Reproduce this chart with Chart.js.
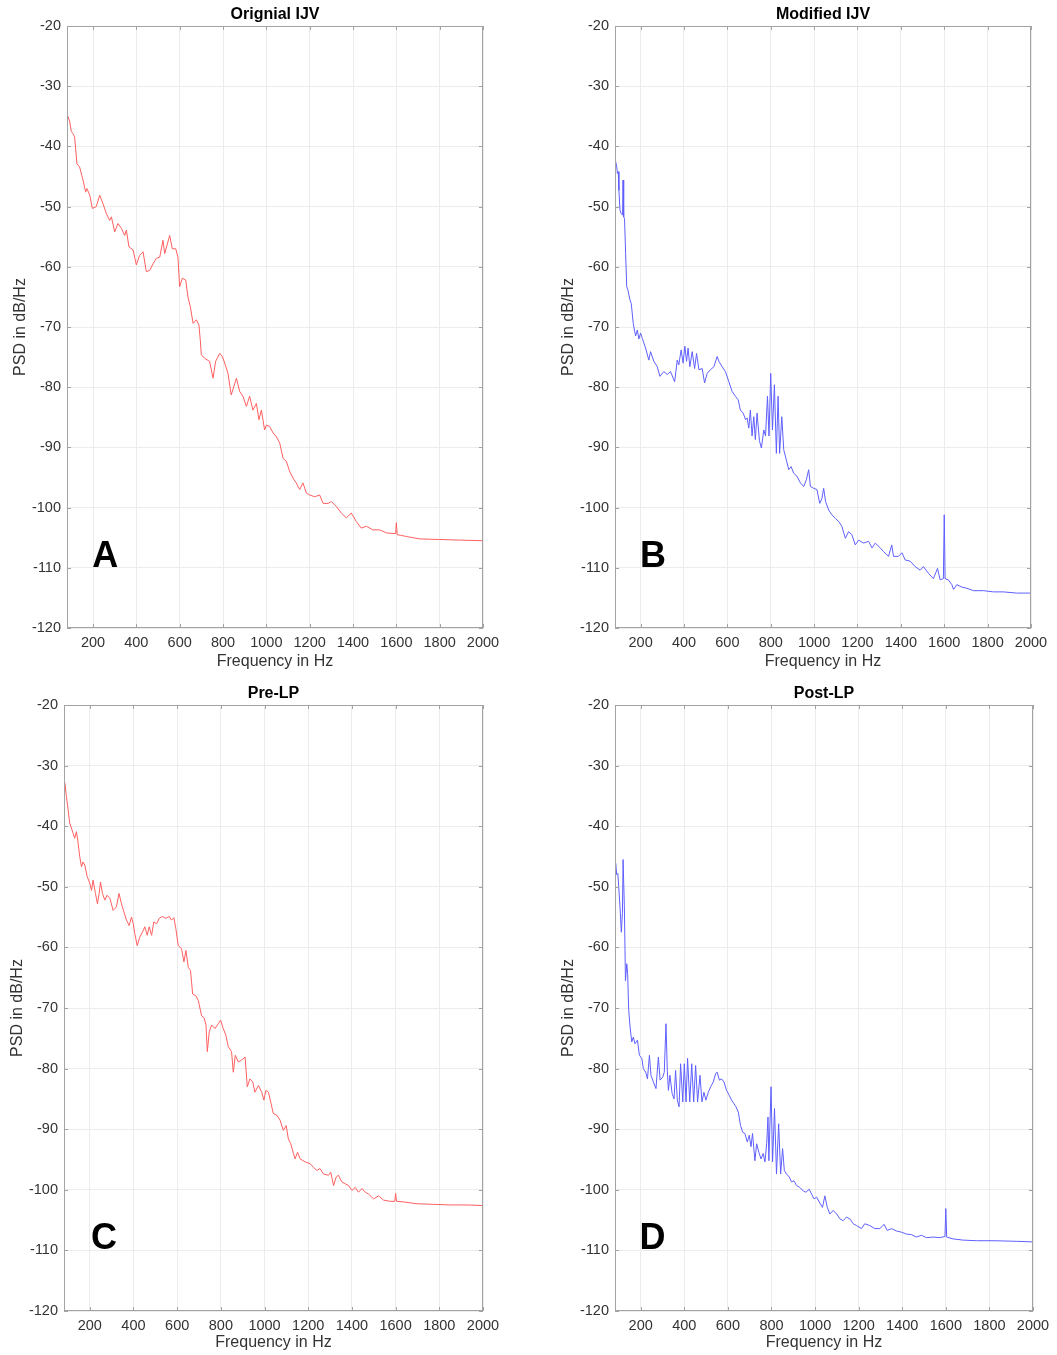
<!DOCTYPE html>
<html>
<head>
<meta charset="utf-8">
<script src="https://cdn.jsdelivr.net/npm/chart.js@4.4.0/dist/chart.umd.min.js"></script>
<style>
  body { margin: 0; background: #fff; }
  .panel { position: absolute; }
</style>
</head>
<body>
<div class="panel" style="left:0px;top:0px"><canvas id="cA" width="509" height="675"></canvas></div>
<div class="panel" style="left:548px;top:0px"><canvas id="cB" width="509" height="675"></canvas></div>
<div class="panel" style="left:0px;top:680px"><canvas id="cC" width="509" height="675"></canvas></div>
<div class="panel" style="left:548px;top:680px"><canvas id="cD" width="509" height="675"></canvas></div>
<script>
// tick labels shared by all four panels
const xTicks = [200, 400, 600, 800, 1000, 1200, 1400, 1600, 1800, 2000];
const yTicks = [-20, -30, -40, -50, -60, -70, -80, -90, -100, -110, -120];

// A: Orignial IJV
const freqA = [80, 84, 92, 100, 108, 115, 126, 138, 154, 166,
  172, 185, 197, 215, 231, 246, 262, 277, 285, 300,
  315, 331, 346, 354, 366, 385, 400, 415, 431, 446,
  462, 477, 492, 508, 523, 531, 554, 566, 582, 592,
  600, 612, 628, 638, 649, 662, 677, 689, 695, 700,
  715, 738, 754, 766, 785, 797, 808, 823, 838, 862,
  877, 892, 908, 923, 938, 954, 966, 977, 992, 1000,
  1015, 1031, 1046, 1062, 1077, 1092, 1108, 1123, 1138, 1154,
  1169, 1185, 1200, 1223, 1246, 1262, 1285, 1300, 1323, 1346,
  1369, 1392, 1415, 1438, 1462, 1492, 1523, 1554, 1585, 1597,
  1600, 1604, 1620, 1646, 1708, 1800, 1892, 2000];
const psdA = [-35.5, -35.0, -35.8, -37.5, -37.9, -38.4, -42.9, -43.4, -45.6, -47.6,
  -47.0, -48.1, -50.3, -50.0, -48.1, -49.5, -51.2, -52.3, -51.7, -54.2,
  -52.8, -53.6, -54.8, -53.9, -56.7, -57.2, -59.7, -58.1, -57.5, -60.8,
  -60.6, -59.5, -58.6, -58.4, -55.6, -57.8, -54.8, -57.0, -57.0, -58.4,
  -63.3, -61.9, -62.2, -65.0, -66.6, -69.4, -68.8, -69.7, -72.1, -74.6,
  -75.2, -75.7, -78.5, -75.7, -74.4, -74.9, -76.0, -77.7, -81.3, -78.5,
  -80.7, -81.5, -83.2, -81.5, -83.8, -82.7, -85.4, -83.8, -87.1, -86.3,
  -86.5, -87.6, -88.2, -89.3, -91.8, -92.3, -94.0, -95.1, -95.9, -97.0,
  -95.9, -97.6, -97.9, -98.2, -97.9, -99.3, -99.3, -99.0, -99.8, -100.9,
  -101.7, -100.9, -102.3, -103.4, -103.1, -103.7, -103.7, -104.2, -104.3, -104.3,
  -102.5, -104.5, -104.6, -104.8, -105.2, -105.3, -105.4, -105.5];

// B: Modified IJV
const freqB = [82, 90, 93, 97, 100, 105, 111, 117, 119, 121,
  123, 126, 131, 136, 142, 151, 157, 166, 177, 185,
  192, 200, 208, 223, 238, 246, 261, 277, 289, 307,
  323, 338, 357, 369, 376, 387, 396, 404, 412, 419,
  427, 438, 449, 458, 469, 484, 495, 507, 522, 538,
  553, 561, 576, 591, 607, 622, 637, 650, 660, 673,
  684, 691, 699, 706, 714, 722, 729, 737, 748, 757,
  768, 776, 785, 792, 800, 808, 817, 826, 834, 841,
  851, 860, 872, 883, 894, 906, 921, 937, 952, 964,
  975, 983, 998, 1013, 1026, 1036, 1044, 1053, 1067, 1082,
  1098, 1113, 1128, 1144, 1159, 1174, 1190, 1205, 1228, 1251,
  1267, 1282, 1305, 1320, 1343, 1358, 1366, 1389, 1405, 1420,
  1443, 1466, 1489, 1504, 1527, 1550, 1569, 1581, 1596, 1600,
  1604, 1619, 1635, 1643, 1658, 1681, 1704, 1735, 1781, 1827,
  1873, 1934, 2000];
const psdB = [-42.0, -43.4, -44.5, -44.2, -47.3, -50.6, -51.2, -51.4, -45.6, -45.8,
  -51.7, -52.0, -57.8, -63.3, -63.9, -65.5, -66.1, -69.4, -71.5, -70.5,
  -72.0, -71.0, -71.9, -73.5, -75.5, -74.1, -75.7, -76.6, -78.2, -77.4,
  -77.9, -77.4, -79.1, -75.5, -76.3, -73.8, -76.0, -73.2, -75.7, -73.5,
  -76.6, -74.1, -76.9, -74.4, -77.1, -76.9, -79.3, -77.7, -77.1, -76.6,
  -74.9, -75.7, -76.6, -77.4, -79.1, -80.7, -81.5, -82.1, -83.8, -84.3,
  -85.4, -85.1, -86.8, -83.8, -88.1, -84.9, -88.7, -84.3, -88.9, -90.1,
  -87.1, -88.1, -81.5, -88.1, -77.7, -87.1, -79.6, -91.0, -81.5, -91.0,
  -84.9, -90.4, -92.1, -93.7, -93.2, -94.3, -94.8, -95.9, -96.5, -95.4,
  -93.7, -96.5, -96.8, -97.0, -99.3, -98.5, -96.8, -99.0, -100.4, -101.2,
  -101.8, -102.3, -103.1, -105.1, -104.0, -104.5, -106.2, -105.4, -105.9, -105.6,
  -106.7, -105.9, -106.7, -107.3, -108.1, -106.2, -108.1, -108.1, -107.5, -108.7,
  -108.9, -109.8, -110.4, -109.8, -110.9, -111.8, -110.1, -112.0, -111.8, -101.2,
  -111.8, -112.0, -112.8, -113.6, -112.8, -113.2, -113.4, -113.8, -113.8, -114.0,
  -114.0, -114.2, -114.2];

// C: Pre-LP
const freqC = [82, 87, 93, 101, 108, 116, 124, 131, 139, 145,
  154, 162, 169, 177, 188, 200, 208, 215, 226, 235,
  243, 249, 258, 269, 279, 292, 307, 322, 334, 345,
  356, 368, 380, 391, 399, 406, 417, 429, 441, 452,
  463, 472, 483, 493, 506, 518, 533, 548, 564, 574,
  585, 594, 605, 620, 631, 640, 651, 661, 671, 686,
  697, 712, 723, 732, 738, 747, 758, 773, 788, 799,
  811, 823, 834, 849, 857, 866, 880, 895, 911, 921,
  933, 946, 956, 972, 987, 997, 1006, 1018, 1028, 1040,
  1056, 1071, 1086, 1099, 1109, 1120, 1132, 1140, 1151, 1163,
  1186, 1209, 1224, 1239, 1254, 1270, 1293, 1303, 1316, 1328,
  1338, 1354, 1369, 1384, 1400, 1415, 1430, 1446, 1461, 1476,
  1499, 1522, 1545, 1575, 1596, 1600, 1604, 1636, 1697, 1774,
  1850, 1927, 2000];
const psdC = [-32.3, -33.1, -35.1, -37.3, -39.5, -40.3, -41.2, -42.0, -40.9, -42.3,
  -45.0, -46.7, -45.9, -46.4, -48.3, -49.4, -50.6, -48.9, -51.1, -52.8,
  -51.1, -49.2, -51.1, -52.2, -51.4, -51.9, -53.9, -53.3, -51.1, -52.8,
  -54.1, -55.5, -56.4, -55.0, -56.1, -57.7, -59.7, -58.3, -57.5, -56.6,
  -58.0, -56.6, -58.0, -55.8, -56.1, -55.2, -54.9, -55.2, -54.9, -55.5,
  -55.1, -56.9, -59.7, -60.2, -62.4, -60.5, -63.3, -63.8, -67.7, -68.0,
  -68.8, -71.3, -71.6, -72.8, -77.2, -73.9, -72.8, -73.4, -72.6, -72.0,
  -73.4, -74.5, -76.4, -77.2, -80.6, -77.8, -78.9, -78.6, -78.1, -83.0,
  -81.7, -82.2, -83.9, -82.8, -83.9, -85.2, -83.6, -83.9, -85.5, -87.4,
  -87.7, -88.5, -90.2, -89.4, -91.6, -92.4, -94.0, -94.9, -93.8, -94.9,
  -95.4, -95.7, -96.3, -96.8, -96.5, -97.4, -97.6, -97.1, -99.3, -97.9,
  -97.6, -98.7, -99.0, -99.3, -100.1, -99.6, -100.4, -99.8, -100.4, -100.7,
  -101.5, -101.0, -101.7, -101.9, -101.9, -100.6, -101.9, -102.0, -102.3, -102.4,
  -102.5, -102.5, -102.6];

// D: Post-LP
const freqD = [82, 85, 90, 95, 99, 105, 111, 116, 119, 121,
  125, 130, 136, 140, 145, 151, 159, 166, 174, 185,
  194, 205, 212, 223, 231, 240, 247, 258, 270, 281,
  289, 301, 308, 316, 322, 327, 334, 344, 353, 360,
  368, 376, 383, 393, 400, 408, 415, 425, 434, 443,
  452, 461, 472, 481, 490, 499, 510, 521, 533, 544,
  551, 561, 571, 582, 594, 606, 617, 628, 637, 648,
  658, 668, 678, 689, 698, 706, 713, 724, 732, 742,
  752, 762, 770, 778, 784, 788, 798, 805, 814, 823,
  833, 842, 851, 859, 869, 882, 892, 903, 915, 930,
  946, 958, 973, 984, 995, 1007, 1019, 1034, 1045, 1056,
  1068, 1083, 1099, 1114, 1129, 1144, 1160, 1175, 1190, 1213,
  1228, 1251, 1274, 1297, 1317, 1331, 1351, 1374, 1397, 1419,
  1442, 1465, 1488, 1511, 1542, 1572, 1596, 1600, 1604, 1633,
  1679, 1740, 1817, 1924, 2000];
const psdD = [-46.7, -46.1, -48.0, -47.8, -50.0, -53.3, -57.5, -54.4, -45.5, -45.5,
  -53.3, -65.5, -62.7, -64.3, -70.4, -73.1, -75.6, -74.8, -75.9, -75.3,
  -77.8, -78.3, -80.0, -80.6, -81.7, -77.8, -81.1, -82.2, -83.3, -78.1,
  -81.9, -81.4, -80.6, -72.6, -80.3, -83.6, -81.1, -84.1, -85.0, -80.3,
  -85.2, -86.3, -79.2, -85.5, -79.2, -85.5, -78.3, -85.5, -79.2, -85.5,
  -79.5, -85.5, -81.1, -85.5, -83.9, -85.2, -83.9, -83.0, -82.2, -80.8,
  -80.6, -81.9, -81.7, -82.2, -83.6, -84.4, -85.2, -85.8, -86.3, -87.2,
  -89.4, -90.5, -90.7, -92.1, -91.0, -92.9, -90.7, -95.2, -92.4, -93.8,
  -94.9, -94.0, -95.4, -92.4, -88.0, -95.2, -83.0, -95.4, -86.6, -97.4,
  -89.1, -97.4, -93.2, -96.8, -97.4, -97.9, -98.7, -98.5, -99.3, -99.6,
  -100.2, -100.4, -99.9, -100.7, -101.5, -101.2, -102.0, -102.9, -101.0, -102.9,
  -104.0, -103.4, -104.0, -104.8, -105.1, -104.5, -104.8, -105.6, -105.9, -106.4,
  -105.6, -105.9, -106.4, -106.4, -105.7, -106.7, -106.4, -106.8, -107.0, -107.3,
  -107.4, -107.8, -107.5, -107.9, -107.8, -107.9, -107.7, -103.1, -107.8, -108.1,
  -108.3, -108.4, -108.4, -108.5, -108.6];

const RED = 'rgb(255, 95, 95)';
const BLUE = 'rgb(95, 95, 255)';
const FONT = 'Helvetica, Arial, "Liberation Sans", sans-serif';
Chart.defaults.font.family = FONT;

// box line, inward tick marks and the panel letter
const framePlugin = {
  id: 'frame',
  afterDraw(chart, args, opts) {
    const { ctx, chartArea: a, scales } = chart;
    ctx.save();
    ctx.strokeStyle = '#a3a3a3';
    ctx.lineWidth = 1;
    ctx.strokeRect(a.left + 0.5, a.top + 0.5, a.right - a.left - 1, a.bottom - a.top - 1);
    ctx.beginPath();
    xTicks.forEach(v => {
      const x = Math.round(scales.x.getPixelForValue(v)) + 0.5;
      ctx.moveTo(x, a.bottom); ctx.lineTo(x, a.bottom - 4);
      ctx.moveTo(x, a.top); ctx.lineTo(x, a.top + 4);
    });
    yTicks.forEach(v => {
      const y = Math.round(scales.y.getPixelForValue(v)) + 0.5;
      ctx.moveTo(a.left, y); ctx.lineTo(a.left + 4, y);
      ctx.moveTo(a.right, y); ctx.lineTo(a.right - 4, y);
    });
    ctx.stroke();
    ctx.fillStyle = '#000';
    ctx.font = 'bold 36px ' + FONT;
    ctx.textAlign = 'left';
    ctx.textBaseline = 'alphabetic';
    ctx.fillText(opts.letter, scales.x.getPixelForValue(opts.letterX), scales.y.getPixelForValue(-109.8));
    ctx.restore();
  }
};

function makePanel(id, title, letter, letterX, freq, psd, color, xMin, box) {
  const ctx = document.getElementById(id).getContext('2d');
  return new Chart(ctx, {
    type: 'line',
    data: {
      datasets: [{
        data: freq.map((f, i) => ({ x: f, y: psd[i] })),
        borderColor: color,
        borderWidth: 1,
        pointRadius: 0,
        tension: 0
      }]
    },
    options: {
      responsive: false,
      animation: false,
      layout: { padding: { left: 0, right: box.padRight, top: 0, bottom: 0 } },
      plugins: {
        legend: { display: false },
        tooltip: { enabled: false },
        title: {
          display: true,
          text: title,
          fullSize: false,
          color: '#000',
          font: { size: 16, weight: 'bold' },
          padding: { top: box.titleTop, bottom: box.plotTop - box.titleTop - 19.2 }
        },
        frame: { letter: letter, letterX: letterX }
      },
      scales: {
        x: {
          type: 'linear',
          min: xMin,
          max: 2000,
          afterBuildTicks: s => { s.ticks = xTicks.map(v => ({ value: v })); },
          afterFit: s => { s.height = box.xHeight; },
          grid: { color: '#ececec', drawTicks: false },
          border: { display: false },
          ticks: { color: '#333', font: { size: 14.5 }, padding: box.xTickPad, maxRotation: 0, autoSkip: false,
                   callback: v => String(v) },
          title: { display: true, text: 'Frequency in Hz', color: '#333', font: { size: 16 }, padding: { top: 0, bottom: box.xTitlePad } }
        },
        y: {
          min: -120,
          max: -20,
          afterBuildTicks: s => { s.ticks = yTicks.map(v => ({ value: v })); },
          afterFit: s => { s.width = box.yWidth; },
          grid: { color: '#ececec', drawTicks: false },
          border: { display: false },
          ticks: { color: '#333', font: { size: 14.5 }, padding: 6, autoSkip: false, callback: v => String(v) },
          title: { display: true, text: 'PSD in dB/Hz', color: '#333', font: { size: 16 }, padding: { top: box.yTitlePad, bottom: 0 } }
        }
      }
    },
    plugins: [framePlugin]
  });
}

makePanel('cA', 'Orignial IJV', 'A', 197, freqA, psdA, RED, 80,
  { padRight: 26, yWidth: 67, plotTop: 26, titleTop: 5, xHeight: 47, xTickPad: 6, xTitlePad: 3.7, yTitlePad: 10.9 });
makePanel('cB', 'Modified IJV', 'B', 197, freqB, psdB, BLUE, 82,
  { padRight: 26, yWidth: 67, plotTop: 26, titleTop: 5, xHeight: 47, xTickPad: 6, xTitlePad: 3.7, yTitlePad: 11.4 });
makePanel('cC', 'Pre-LP', 'C', 206, freqC, psdC, RED, 82,
  { padRight: 26, yWidth: 64, plotTop: 25, titleTop: 3.7, xHeight: 44, xTickPad: 6, xTitlePad: 2.4, yTitlePad: 8.4 });
makePanel('cD', 'Post-LP', 'D', 194, freqD, psdD, BLUE, 82,
  { padRight: 24, yWidth: 67, plotTop: 25, titleTop: 3.7, xHeight: 44, xTickPad: 6, xTitlePad: 2.4, yTitlePad: 10.9 });
</script>
</body>
</html>
